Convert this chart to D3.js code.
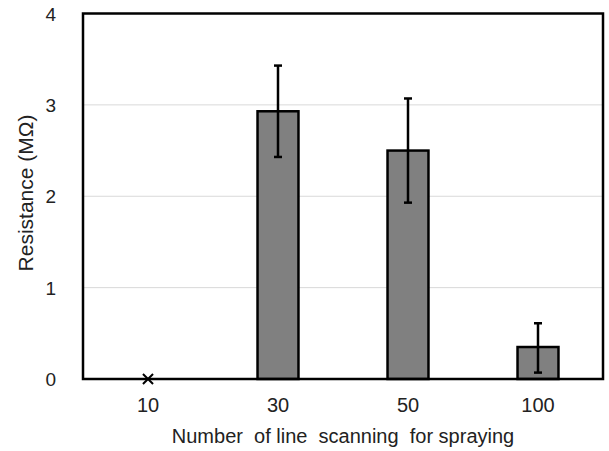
<!DOCTYPE html>
<html>
<head>
<meta charset="utf-8">
<script src="https://d3js.org/d3.v7.min.js"></script>
<style>
  body { margin: 0; background: #fff; }
  text { font-family: "Liberation Sans", Arial, sans-serif; fill: #222; }
</style>
</head>
<body>
<svg id="vis"></svg>
<script>
  // data
  let categories = ["10", "30", "50", "100"];
  let values = [0, 2.93, 2.5, 0.35];
  let errLow = [0, 2.43, 1.93, 0.07];
  let errHigh = [0, 3.43, 3.07, 0.61];
  let missing = ["10"]; // drawn as a cross on the axis
  let yTicks = [0, 1, 2, 3, 4];

  let width = 609, height = 451;
  let margin = {top: 13.5, right: 6, bottom: 72, left: 83};

  let svg = d3.select("#vis").attr("width", width).attr("height", height);

  let x = d3.scaleBand()
      .domain(categories)
      .range([margin.left, width - margin.right])
      .paddingInner(0.685)
      .paddingOuter(0.3425);

  let y = d3.scaleLinear()
      .domain([0, 4])
      .range([height - margin.bottom, margin.top]);

  // gridlines
  svg.append("g")
      .selectAll("line")
      .data(yTicks.filter(d => d > 0 && d < 4))
      .join("line")
      .attr("x1", margin.left)
      .attr("x2", width - margin.right)
      .attr("y1", d => y(d))
      .attr("y2", d => y(d))
      .attr("stroke", "#d9d9d9")
      .attr("stroke-width", 1);

  // bars
  let data = categories.map((c, i) => ({c, v: values[i], lo: errLow[i], hi: errHigh[i]}));
  let shown = data.filter(d => !missing.includes(d.c));

  svg.append("g")
      .selectAll("rect")
      .data(shown)
      .join("rect")
      .attr("x", d => x(d.c))
      .attr("y", d => y(d.v))
      .attr("width", x.bandwidth())
      .attr("height", d => y(0) - y(d.v))
      .attr("fill", "#808080")
      .attr("stroke", "#000")
      .attr("stroke-width", 2.5);

  // error bars
  let eb = svg.append("g").attr("stroke", "#000").attr("stroke-width", 2.5);
  shown.forEach(d => {
      let cx = x(d.c) + x.bandwidth() / 2;
      eb.append("line").attr("x1", cx).attr("x2", cx).attr("y1", y(d.lo)).attr("y2", y(d.hi));
      eb.append("line").attr("x1", cx - 4).attr("x2", cx + 4).attr("y1", y(d.lo)).attr("y2", y(d.lo));
      eb.append("line").attr("x1", cx - 4).attr("x2", cx + 4).attr("y1", y(d.hi)).attr("y2", y(d.hi));
  });

  // frame
  svg.append("rect")
      .attr("x", margin.left)
      .attr("y", margin.top)
      .attr("width", width - margin.right - margin.left)
      .attr("height", y(0) - margin.top)
      .attr("fill", "none")
      .attr("stroke", "#000")
      .attr("stroke-width", 2.5);

  // cross marker for missing value
  svg.append("g")
      .selectAll("path")
      .data(data.filter(d => missing.includes(d.c)))
      .join("path")
      .attr("d", d3.symbol().type(d3.symbolTimes).size(68))
      .attr("transform", d => `translate(${x(d.c) + x.bandwidth() / 2},${y(0)})`)
      .attr("fill", "none")
      .attr("stroke", "#000")
      .attr("stroke-width", 2);

  // y axis labels
  svg.append("g")
      .selectAll("text")
      .data(yTicks)
      .join("text")
      .attr("x", 56)
      .attr("y", d => y(d) + 7)
      .attr("text-anchor", "end")
      .attr("font-size", 19)
      .text(d => d);

  // x axis labels
  svg.append("g")
      .selectAll("text")
      .data(categories)
      .join("text")
      .attr("x", d => x(d) + x.bandwidth() / 2)
      .attr("y", 412)
      .attr("text-anchor", "middle")
      .attr("font-size", 20)
      .text(d => d);

  svg.append("text")
      .attr("x", 343)
      .attr("y", 443)
      .attr("text-anchor", "middle")
      .attr("font-size", 20)
      .attr("xml:space", "preserve")
      .style("white-space", "pre")
      .text("Number  of line  scanning  for spraying");

  svg.append("text")
      .attr("transform", "translate(33,193)rotate(-90)")
      .attr("text-anchor", "middle")
      .attr("font-size", 21)
      .text("Resistance (MΩ)");
</script>
</body>
</html>
